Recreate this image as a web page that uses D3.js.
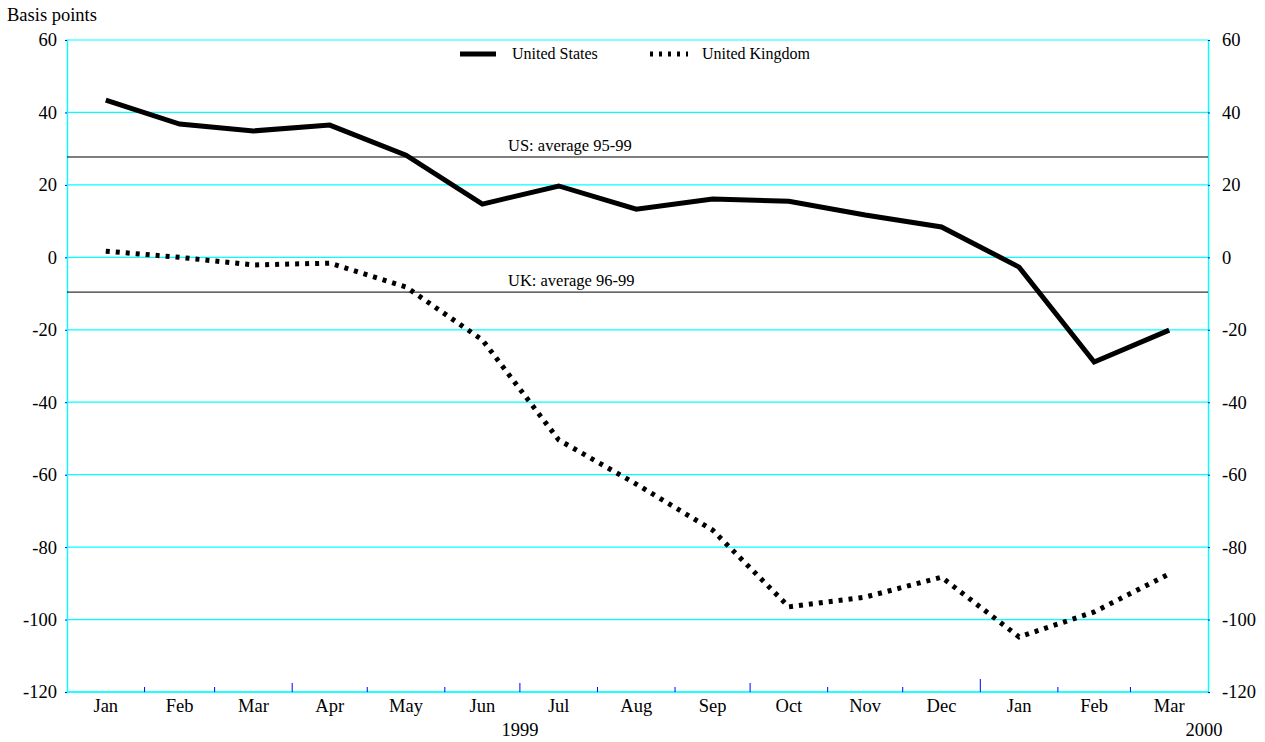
<!DOCTYPE html>
<html>
<head>
<meta charset="utf-8">
<script src="https://cdn.jsdelivr.net/npm/d3@7"></script>
<style>
  body { margin: 0; background: #fff; }
  svg text { font-family: "Times New Roman", "Liberation Serif", "DejaVu Serif", serif; fill: #000; }
</style>
</head>
<body>
<div id="chart"></div>
<script>
const months = ['1999-01', '1999-02', '1999-03', '1999-04', '1999-05', '1999-06', '1999-07', '1999-08',
                '1999-09', '1999-10', '1999-11', '1999-12', '2000-01', '2000-02', '2000-03']
const monthLabels = ['Jan', 'Feb', 'Mar', 'Apr', 'May', 'Jun', 'Jul', 'Aug', 'Sep', 'Oct', 'Nov', 'Dec', 'Jan', 'Feb', 'Mar']
const usValues = [43.4, 36.8, 34.9, 36.5, 28.2, 14.7, 19.7, 13.3, 16.1, 15.5, 11.7, 8.4, -2.7, -28.9, -20.1]
const ukValues = [1.7, 0, -2.1, -1.6, -8.2, -22.8, -50.4, -62.6, -75.3, -96.5, -93.8, -88.3, -104.8, -97.9, -87.4]
const yTicks = [60, 40, 20, 0, -20, -40, -60, -80, -100, -120]
const averages = [
  { label: 'US: average 95-99', value: 27.7 },
  { label: 'UK: average 96-99', value: -9.6 }
]
const yearLabels = [{ text: '1999', month: '1999-07' }, { text: '2000', month: '2000-04' }]

const w = 1265, h = 742
const mLeft = 67, mRight = 1208, mTop = 40, mBottom = 692
const serif = '"Times New Roman", "Liberation Serif", serif'
const axisFont = 18.5

const parse = d3.timeParse('%Y-%m')
const midMonth = (m) => {
  const s = parse(m)
  const e = d3.timeMonth.offset(s, 1)
  return new Date((s.getTime() + e.getTime()) / 2)
}

const xScale = d3.scaleTime()
                 .domain([parse('1999-01'), parse('2000-04')])
                 .range([mLeft, mRight])
const yScale = d3.scaleLinear()
                 .domain([-120, 60])
                 .range([mBottom, mTop])

const svg = d3.select('#chart').append('svg')
              .attr('width', w)
              .attr('height', h)
              .attr('font-family', serif)

// gridlines
svg.append('g')
   .selectAll('line')
   .data(yTicks)
   .enter()
   .append('line')
   .attr('x1', mLeft).attr('x2', mRight)
   .attr('y1', d => yScale(d)).attr('y2', d => yScale(d))
   .attr('stroke', '#00ffff').attr('stroke-width', 1.2)

// left & right axes
const yLeft = svg.append('g')
   .attr('transform', 'translate(' + mLeft + ',0)')
   .call(d3.axisLeft(yScale).tickValues(yTicks).tickFormat(d => String(d)).tickSize(2).tickPadding(8))
const yRight = svg.append('g')
   .attr('transform', 'translate(' + mRight + ',0)')
   .call(d3.axisRight(yScale).tickValues(yTicks).tickFormat(d => String(d)).tickSize(2).tickPadding(12))
;[yLeft, yRight].forEach(a => {
  a.attr('font-family', serif).attr('font-size', axisFont)
  a.select('.domain').attr('stroke', '#00ffff').attr('stroke-width', 1.4)
  a.selectAll('.tick line').attr('stroke', '#0000ff')
})

// bottom axis
svg.append('line')
   .attr('x1', mLeft).attr('x2', mRight)
   .attr('y1', mBottom).attr('y2', mBottom)
   .attr('stroke', '#00ffff').attr('stroke-width', 1.6)

const monthStarts = d3.timeMonth.range(parse('1999-02'), parse('2000-04'))
svg.append('g')
   .selectAll('line')
   .data(monthStarts)
   .enter()
   .append('line')
   .attr('x1', d => xScale(d)).attr('x2', d => xScale(d))
   .attr('y1', mBottom)
   .attr('y2', d => mBottom - (d.getMonth() === 0 ? 13 : (d.getMonth() % 3 === 0 ? 9 : 5)))
   .attr('stroke', '#0000ff').attr('stroke-width', 1)

svg.append('g')
   .selectAll('text')
   .data(months)
   .enter()
   .append('text')
   .attr('x', (d) => xScale(midMonth(d)))
   .attr('y', mBottom + 20)
   .attr('text-anchor', 'middle')
   .attr('font-size', axisFont)
   .text((d, i) => monthLabels[i])

svg.append('g')
   .selectAll('text')
   .data(yearLabels)
   .enter()
   .append('text')
   .attr('x', d => d.text === '2000' ? xScale(parse(d.month)) - 4 : xScale(parse(d.month)))
   .attr('y', mBottom + 44)
   .attr('text-anchor', 'middle')
   .attr('font-size', axisFont)
   .text(d => d.text)

// average lines
svg.append('g')
   .selectAll('line')
   .data(averages)
   .enter()
   .append('line')
   .attr('x1', mLeft).attr('x2', mRight)
   .attr('y1', d => yScale(d.value)).attr('y2', d => yScale(d.value))
   .attr('stroke', '#000').attr('stroke-width', 1)
svg.append('g')
   .selectAll('text')
   .data(averages)
   .enter()
   .append('text')
   .attr('x', 508)
   .attr('y', d => yScale(d.value) - 6)
   .attr('font-size', 16.5)
   .text(d => d.label)

// series
const line = d3.line()
               .x((d, i) => xScale(midMonth(months[i])))
               .y(d => yScale(d))

svg.append('path')
   .datum(usValues)
   .attr('d', line)
   .attr('fill', 'none')
   .attr('stroke', '#000')
   .attr('stroke-width', 5)

svg.append('path')
   .datum(ukValues)
   .attr('d', line)
   .attr('fill', 'none')
   .attr('stroke', '#000')
   .attr('stroke-width', 5)
   .attr('stroke-dasharray', '4,6')

// y unit label
svg.append('text')
   .attr('x', 7).attr('y', 21)
   .attr('font-size', axisFont)
   .text('Basis points')

// legend
const legend = svg.append('g')
legend.append('line')
      .attr('x1', 460).attr('x2', 496).attr('y1', 54).attr('y2', 54)
      .attr('stroke', '#000').attr('stroke-width', 5)
legend.append('text')
      .attr('x', 512).attr('y', 59)
      .attr('font-size', 16)
      .text('United States')
legend.append('line')
      .attr('x1', 650).attr('x2', 688).attr('y1', 54).attr('y2', 54)
      .attr('stroke', '#000').attr('stroke-width', 5)
      .attr('stroke-dasharray', '3,6')
legend.append('text')
      .attr('x', 702).attr('y', 59)
      .attr('font-size', 16)
      .text('United Kingdom')
</script>
</body>
</html>
